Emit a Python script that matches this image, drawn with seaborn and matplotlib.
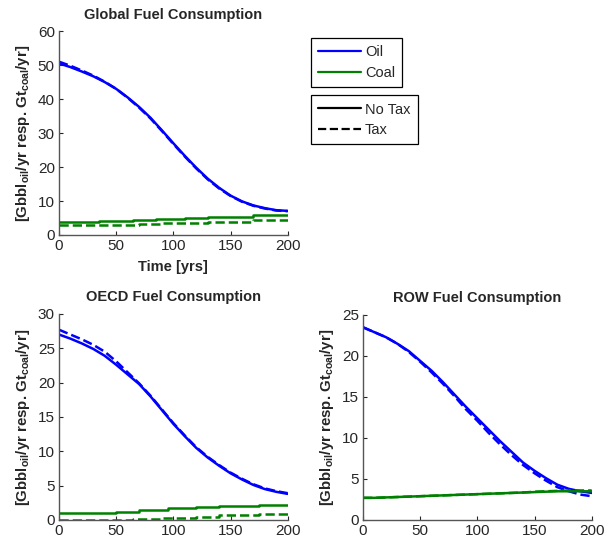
import numpy as np
import pandas as pd
import matplotlib
matplotlib.use('Agg')
import matplotlib.pyplot as plt
from matplotlib.lines import Line2D
import seaborn as sns

sns.set_style('ticks')
plt.rcParams['font.family'] = ['Liberation Sans', 'DejaVu Sans']
plt.rcParams['mathtext.default'] = 'regular'

# 时间轴 (年)
years = [0, 10, 20, 30, 40, 50, 60, 70, 80, 90, 100,
         110, 120, 130, 140, 150, 160, 170, 180, 190, 200]

# 全球石油
global_oil = [50.5, 49.4, 48.1, 46.7, 45.0, 43.0, 40.5, 37.7, 34.5, 30.8, 27.0,
              23.3, 19.8, 16.6, 13.9, 11.6, 9.9, 8.7, 7.9, 7.3, 7.1]
global_oil_tax = [51.0, 49.8, 48.4, 46.9, 45.1, 43.0, 40.4, 37.5, 34.3, 30.6, 26.8,
                  23.1, 19.6, 16.4, 13.7, 11.5, 9.8, 8.6, 7.8, 7.2, 7.0]
# 全球煤炭 (阶梯)
global_coal_yrs = [0, 35, 65, 85, 110, 130, 170, 200]
global_coal = [3.8, 4.0, 4.3, 4.7, 5.0, 5.3, 5.8, 5.8]
global_coal_tax_yrs = [0, 70, 90, 130, 170, 200]
global_coal_tax = [2.8, 3.2, 3.5, 3.9, 4.5, 4.5]

# OECD
oecd_oil = [27.0, 26.4, 25.7, 24.9, 23.9, 22.6, 21.2, 19.8, 18.0, 16.0, 14.0,
            12.2, 10.5, 9.1, 7.9, 6.8, 5.9, 5.1, 4.5, 4.1, 3.8]
oecd_oil_tax = [27.7, 27.0, 26.3, 25.5, 24.5, 23.1, 21.5, 19.9, 18.1, 16.1, 14.1,
                12.3, 10.6, 9.2, 8.0, 6.9, 6.0, 5.2, 4.6, 4.2, 3.9]
oecd_coal_yrs = [0, 50, 70, 95, 120, 140, 175, 200]
oecd_coal = [1.0, 1.2, 1.5, 1.7, 1.9, 2.1, 2.2, 2.2]
oecd_coal_tax_yrs = [0, 65, 90, 120, 140, 175, 200]
oecd_coal_tax = [0.0, 0.1, 0.3, 0.5, 0.7, 0.8, 0.8]

# ROW
row_oil = [23.5, 22.9, 22.3, 21.5, 20.6, 19.4, 18.2, 16.8, 15.3, 13.8, 12.4,
           11.0, 9.6, 8.3, 7.0, 6.0, 5.1, 4.3, 3.8, 3.5, 3.3]
row_oil_tax = [23.5, 22.9, 22.3, 21.5, 20.5, 19.3, 18.0, 16.6, 15.1, 13.5, 12.1,
               10.6, 9.2, 7.9, 6.7, 5.7, 4.8, 4.0, 3.5, 3.1, 2.9]
row_coal = [2.7, 2.7, 2.75, 2.8, 2.85, 2.9, 2.95, 3.0, 3.05, 3.1, 3.15,
            3.2, 3.25, 3.3, 3.35, 3.4, 3.45, 3.5, 3.5, 3.5, 3.5]
row_coal_tax = [2.7, 2.7, 2.75, 2.8, 2.85, 2.9, 2.95, 3.0, 3.05, 3.1, 3.15,
                3.2, 3.25, 3.3, 3.35, 3.45, 3.5, 3.55, 3.6, 3.6, 3.6]

BLUE = '#0000ff'
GREEN = '#008000'
YLABEL = r'[Gbbl$_{oil}$/yr resp. Gt$_{coal}$/yr]'


def panel(ax, title, oil, oil_tax, cx, coal, cxt, coal_tax, ymax, ystep, coal_steps=True):
    sns.lineplot(x=years, y=oil, ax=ax, color=BLUE, lw=1.8)
    sns.lineplot(x=years, y=oil_tax, ax=ax, color=BLUE, lw=1.8, linestyle='--')
    ds = 'steps-post' if coal_steps else 'default'
    sns.lineplot(x=cx, y=coal, ax=ax, color=GREEN, lw=1.8, drawstyle=ds)
    sns.lineplot(x=cxt, y=coal_tax, ax=ax, color=GREEN, lw=1.8, linestyle='--', drawstyle=ds)
    ax.set_xlim(0, 200)
    ax.set_ylim(0, ymax)
    ax.set_xticks([0, 50, 100, 150, 200])
    ax.set_yticks(np.arange(0, ymax + 0.1, ystep))
    ax.set_title(title, fontsize=10.5, fontweight='bold', pad=9)
    ax.set_ylabel(YLABEL, fontsize=10.8, fontweight='bold', labelpad=4)
    ax.tick_params(direction='in', length=3, labelsize=11, colors='#262626', pad=3)
    for s in ['top', 'right']:
        ax.spines[s].set_visible(False)
    for s in ['left', 'bottom']:
        ax.spines[s].set_color('#555555')
        ax.spines[s].set_linewidth(1.0)


fig = plt.figure(figsize=(6.05, 5.38), dpi=100)
ax1 = fig.add_axes([0.0975, 0.5632, 0.378, 0.379])
ax2 = fig.add_axes([0.0975, 0.0335, 0.378, 0.383])
ax3 = fig.add_axes([0.600, 0.0335, 0.378, 0.381])

panel(ax1, 'Global Fuel Consumption', global_oil, global_oil_tax,
      global_coal_yrs, global_coal, global_coal_tax_yrs, global_coal_tax, 60, 10)
ax1.set_xlabel('Time [yrs]', fontsize=10.5, fontweight='bold', labelpad=5)
panel(ax2, 'OECD Fuel Consumption', oecd_oil, oecd_oil_tax,
      oecd_coal_yrs, oecd_coal, oecd_coal_tax_yrs, oecd_coal_tax, 30, 5)
panel(ax3, 'ROW Fuel Consumption', row_oil, row_oil_tax,
      years, row_coal, years, row_coal_tax, 25, 5, coal_steps=False)

# 图例
h1 = [Line2D([], [], color=BLUE, lw=1.6), Line2D([], [], color=GREEN, lw=1.6)]
h2 = [Line2D([], [], color='black', lw=1.6), Line2D([], [], color='black', lw=1.6, linestyle='--')]
lkw = dict(fontsize=10.5, fancybox=False, framealpha=1, edgecolor='black',
           handlelength=2.9, handletextpad=0.3, borderpad=0.5, labelspacing=0.45,
           borderaxespad=0)
leg1 = fig.legend(h1, ['Oil', 'Coal'], loc='upper left', bbox_to_anchor=(0.514, 0.929), **lkw)
leg2 = fig.legend(h2, ['No Tax', 'Tax'], loc='upper left', bbox_to_anchor=(0.514, 0.823), **lkw)
for lg in (leg1, leg2):
    lg.get_frame().set_linewidth(0.9)

plt.savefig('out.png', dpi=100)
